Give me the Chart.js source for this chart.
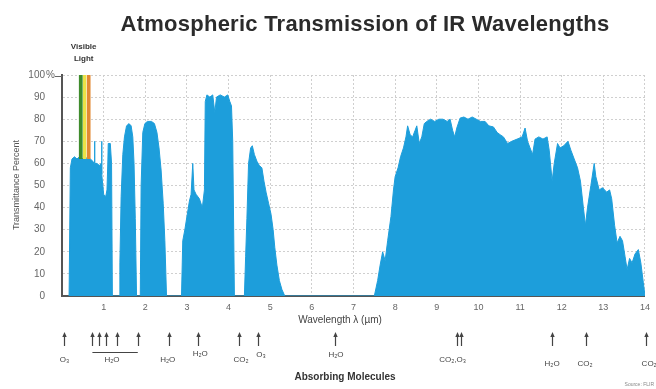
<!DOCTYPE html>
<html><head><meta charset="utf-8">
<script src="https://cdn.jsdelivr.net/npm/chart.js@4/dist/chart.umd.min.js"></script>
<style>html,body{margin:0;padding:0;background:#fff}#wrap{width:656px;height:389px;position:relative}</style>
</head><body><div id="wrap"><canvas id="c" width="656" height="389"></canvas></div>
<script>
// ---------- data ----------
const wavelengths = [
0.17,0.2,0.24,0.3,0.36,0.42,0.48,0.55,0.62,0.68,0.74,0.77,0.78,0.79,0.84,0.9,0.94,0.95,0.96,1.0,1.05,1.08,1.1,1.11,1.16,1.19,1.21,
1.37,1.39,1.42,1.46,1.5,1.55,1.61,1.66,1.7,1.73,1.76,1.79,
1.88,1.9,1.94,1.99,2.05,2.15,2.22,2.28,2.33,2.38,2.43,2.47,2.51,
2.87,2.9,2.95,3.0,3.06,3.1,3.14,3.17,3.22,3.3,3.37,3.42,3.44,3.48,3.55,3.62,3.67,3.71,3.8,3.9,3.98,4.03,4.07,4.1,4.14,
4.38,4.41,4.44,4.48,4.53,4.57,4.62,4.68,4.74,4.8,4.85,4.9,4.96,5.02,5.07,5.11,5.16,5.22,5.28,5.35,
7.5,7.58,7.64,7.7,7.76,7.82,7.9,7.96,8.0,8.07,8.13,8.2,8.26,8.3,8.36,8.42,8.48,8.52,8.58,8.64,8.7,8.76,8.85,8.95,9.05,9.15,9.25,9.32,9.38,9.43,9.48,9.56,9.65,9.75,9.85,9.95,10.05,10.16,10.25,10.36,10.45,10.52,10.6,10.7,10.8,10.93,11.05,11.12,11.18,11.24,11.3,11.36,11.45,11.55,11.65,11.7,11.77,11.82,11.9,11.96,12.05,12.15,12.22,12.3,12.38,12.45,12.52,12.57,12.62,12.7,12.78,12.82,12.9,12.98,13.08,13.15,13.2,13.27,13.33,13.4,13.46,13.52,13.57,13.63,13.69,13.76,13.84,13.9,13.96,14.0
];
const transmittance = [
0,58,62,63,62,63,62,63,62,62,61,60,70,60,60,59,60,70,55,46,45,48,60,69,69,60,0,
0,15,45,64,72,77,78,77,72,60,35,0,
0,50,74,78,79,79,78,74,67,57,42,25,0,
0,25,30,36,43,46,60,48,46,44,40,48,88,91,90,91,83,90,91,90,91,88,86,70,0,
0,18,35,60,67,68,64,61,59,58,52,47,42,37,30,22,14,7,3,0,
0,7,14,20,16,25,36,48,54,58,63,67,72,77,73,72,75,77,69,72,78,79,80,79,80,80,79,80,75,72,76,80.5,81,80,81,80,79,79,77,76.5,74,73,72,69,70,71,72,76,70,67,64,71,72,71,72,66,52,60,69,67,68,70,66,62,58,52,40,32,40,50,60,54,48,49,47,48,44,32,24,27,25,18,12,17,15,19,21,15,6,0
];
const xTicks = [1,2,3,4,5,6,7,8,9,10,11,12,13,14];
const yTicks = [0,10,20,30,40,50,60,70,80,90,100];
const visibleEdges = [0.40, 0.50, 0.59, 0.69];   // green | yellow | orange band edges (µm)
const visibleRange = [62, 102];                   // band bottom / top (%)
const arrowWavelengths = [0.06,0.73,0.88,1.05,1.31,1.82,2.58,3.26,4.24,4.7,6.55,9.48,9.57,11.77,12.58,14.03];
const moleculeLabels = ['O₃','H₂O','H₂O','H₂O','CO₂','O₃','H₂O','CO₂,O₃','H₂O','CO₂','CO₂'];
const labelWavelengths = [0.06,1.2,2.54,3.32,4.3,4.78,6.58,9.38,11.77,12.56,14.1];
const h2oGroup = [0.73, 1.82];

// ---------- layout/styling ----------
const FONT = "'Liberation Sans', Arial, Helvetica, sans-serif";
const labelRaise = [0,0,0,6,0,5,5,0,-4,-4,-4];
const BLUE = '#1d9edb';
const bandColors = ['#3f8c2c', '#ece246', '#e38a33'];

const pts = wavelengths.map((x, i) => ({x, y: transmittance[i]}));
const bandSets = bandColors.map((c, i) => ({
  data: [{x: visibleEdges[i], y: visibleRange[1]}, {x: visibleEdges[i+1], y: visibleRange[1]}],
  fill: {value: visibleRange[0]}, backgroundColor: c, borderColor: c, borderWidth: 0,
  pointRadius: 0, clip: false, order: 0
}));

const extras = {
  id: 'extras',
  afterDraw(chart) {
    const ctx = chart.ctx, xs = chart.scales.x, ys = chart.scales.y;
    ctx.save();
    // title
    ctx.fillStyle = '#2b2b2b';
    ctx.font = "bold 22px " + FONT;
    if ('letterSpacing' in ctx) ctx.letterSpacing = '0.25px';
    ctx.textAlign = 'center'; ctx.textBaseline = 'alphabetic';
    ctx.fillText('Atmospheric Transmission of IR Wavelengths', 365, 31);
    if ('letterSpacing' in ctx) ctx.letterSpacing = '0px';
    // visible light
    ctx.font = "bold 8px " + FONT;
    ctx.fillStyle = '#333';
    const vx = xs.getPixelForValue((visibleEdges[0] + visibleEdges[3]) / 2);
    ctx.fillText('Visible', vx - 1, 49);
    ctx.fillText('Light', vx - 1, 61);
    // % on 100
    ctx.font = "10px " + FONT; ctx.fillStyle = '#666';
    ctx.textAlign = 'left'; ctx.textBaseline = 'middle';
    ctx.fillText('%', 46, ys.getPixelForValue(100));
    ctx.strokeStyle = '#666'; ctx.lineWidth = 1;
    ctx.beginPath(); ctx.moveTo(55, ys.getPixelForValue(100) + 1.5); ctx.lineTo(62, ys.getPixelForValue(100) + 1.5); ctx.stroke();
    // y axis title
    ctx.save();
    ctx.translate(17, 185); ctx.rotate(-Math.PI / 2);
    ctx.textAlign = 'center'; ctx.font = "9px " + FONT; ctx.fillStyle = '#555';
    ctx.fillText('Transmittance Percent', 0, 0);
    ctx.restore();
    // x axis title
    ctx.textAlign = 'center'; ctx.textBaseline = 'middle';
    ctx.font = "10px " + FONT; ctx.fillStyle = '#444';
    ctx.fillText('Wavelength λ (µm)', 340, 320);
    // arrows
    ctx.strokeStyle = '#444'; ctx.fillStyle = '#444'; ctx.lineWidth = 1.2;
    arrowWavelengths.forEach(w => {
      const x = Math.round(xs.getPixelForValue(w)) + 0.5;
      ctx.beginPath(); ctx.moveTo(x, 335); ctx.lineTo(x, 346); ctx.stroke();
      ctx.beginPath(); ctx.moveTo(x - 2.2, 337); ctx.lineTo(x, 332); ctx.lineTo(x + 2.2, 337); ctx.closePath(); ctx.fill();
    });
    // H2O bracket
    ctx.lineWidth = 1;
    ctx.beginPath();
    ctx.moveTo(xs.getPixelForValue(h2oGroup[0]), 352.5);
    ctx.lineTo(xs.getPixelForValue(h2oGroup[1]), 352.5);
    ctx.stroke();
    // molecule labels
    ctx.font = "8px " + FONT; ctx.fillStyle = '#444'; ctx.textAlign = 'center';
    moleculeLabels.forEach((m, i) => {
      ctx.fillText(m, xs.getPixelForValue(labelWavelengths[i]), 360 - labelRaise[i]);
    });
    ctx.font = "bold 10px " + FONT; ctx.fillStyle = '#333';
    ctx.fillText('Absorbing Molecules', 345, 377);
    // source
    ctx.font = "5px " + FONT; ctx.fillStyle = '#888'; ctx.textAlign = 'right';
    ctx.fillText('Source: FLIR', 654, 385);
    ctx.restore();
  }
};

new Chart(document.getElementById('c'), {
  type: 'line',
  data: {
    datasets: [...bandSets, {
      label: 'Transmittance', data: pts, fill: 'origin',
      backgroundColor: BLUE, borderColor: BLUE, borderWidth: 1,
      pointRadius: 0, tension: 0, order: 1
    }]
  },
  options: {
    responsive: false, animation: false,
    layout: {padding: {left: 0, right: 11, top: 75, bottom: 69}},
    plugins: {legend: {display: false}, tooltip: {enabled: false}, title: {display: false}},
    scales: {
      x: {
        type: 'linear', min: 0, max: 14,
        afterBuildTicks: s => { s.ticks = [0, ...xTicks].map(v => ({value: v})); },
        afterFit: s => { s.height = 24; },
        ticks: {callback: v => v === 0 ? '' : v, font: {family: FONT, size: 9}, color: '#666', padding: 6, maxRotation: 0},
        grid: {color: '#cfcfcf', lineWidth: 1, drawTicks: false},
        border: {display: true, color: '#555', width: 2, dash: [2, 2]}
      },
      y: {
        min: 0, max: 100,
        afterBuildTicks: s => { s.ticks = yTicks.map(v => ({value: v})); },
        afterFit: s => { s.width = 62; },
        ticks: {font: {family: FONT, size: 10}, color: '#666', padding: 17},
        grid: {color: '#cfcfcf', lineWidth: 1, drawTicks: false},
        border: {display: true, color: '#555', width: 2, dash: [2, 2]}
      }
    }
  },
  plugins: [extras]
});
</script>
</body></html>
